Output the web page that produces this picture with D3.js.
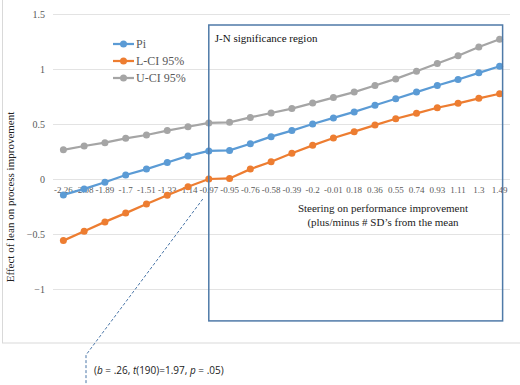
<!DOCTYPE html>
<html>
<head>
<meta charset="utf-8">
<script src="https://cdn.jsdelivr.net/npm/d3@7"></script>
<style>
  body { margin: 0; background: #fff; }
  svg { display: block; }
  .serif { font-family: "Liberation Serif", "Times New Roman", Times, "DejaVu Serif", serif; }
</style>
</head>
<body>
<svg id="chart" width="520" height="385"></svg>
<script>
// moderator values (SDs from the mean)
const categories = ["-2.26", "-2.08", "-1.89", "-1.7", "-1.51", "-1.33", "-1.14", "-0.97", "-0.95", "-0.76",
  "-0.58", "-0.39", "-0.2", "-0.01", "0.18", "0.36", "0.55", "0.74", "0.93", "1.11", "1.3", "1.49"];

const piValues = [-0.145, -0.09, -0.03, 0.036, 0.09, 0.15, 0.21, 0.255, 0.26, 0.32,
  0.385, 0.44, 0.50, 0.555, 0.61, 0.67, 0.73, 0.79, 0.85, 0.905, 0.965, 1.025];
const lowerCI = [-0.56, -0.475, -0.39, -0.31, -0.227, -0.148, -0.07, 0.0, 0.005, 0.09,
  0.157, 0.234, 0.306, 0.373, 0.43, 0.49, 0.548, 0.597, 0.648, 0.688, 0.733, 0.775];
const upperCI = [0.265, 0.30, 0.33, 0.37, 0.40, 0.44, 0.475, 0.51, 0.515, 0.56,
  0.60, 0.64, 0.69, 0.74, 0.79, 0.85, 0.91, 0.98, 1.05, 1.12, 1.20, 1.27];

const yTicks = [-1, -0.5, 0, 0.5, 1, 1.5];

const series = [
  {name: "Pi", values: piValues, color: "#5b9bd5"},
  {name: "L-CI 95%", values: lowerCI, color: "#ed7d31"},
  {name: "U-CI 95%", values: upperCI, color: "#a5a5a5"}
];

const svg = d3.select("#chart");

const x = d3.scaleBand().domain(categories).range([53, 510]).padding(0);
const y = d3.scaleLinear().domain([-1.5, 1.5]).range([344, 14]);
const cx = d => x(d) + x.bandwidth() / 2;

// outer chart frame
svg.append("rect")
  .attr("x", 2.5).attr("y", -5)
  .attr("width", 530).attr("height", 348)
  .attr("fill", "none")
  .attr("stroke", "#d9d9d9");

// gridlines
svg.append("g")
  .selectAll("line")
  .data(yTicks)
  .enter().append("line")
  .attr("x1", 53).attr("x2", 510)
  .attr("y1", d => Math.round(y(d)) + 0.5)
  .attr("y2", d => Math.round(y(d)) + 0.5)
  .attr("stroke", "#e3e3e3")
  .attr("stroke-width", 1);

// y axis labels
const yAxis = svg.append("g")
  .attr("transform", "translate(45,0)")
  .call(d3.axisLeft(y).tickValues(yTicks).tickSize(0).tickPadding(0).tickFormat(d3.format("")));
yAxis.attr("font-family", null);
yAxis.select(".domain").remove();
yAxis.selectAll("text")
  .attr("class", "serif")
  .attr("font-size", 10)
  .attr("fill", "#595959");

// x axis labels sit on the zero line
const xAxis = svg.append("g")
  .attr("transform", `translate(0,${y(0)})`)
  .call(d3.axisBottom(x).tickSize(0).tickPadding(8));
xAxis.attr("font-family", null);
xAxis.select(".domain").remove();
xAxis.selectAll("text")
  .attr("class", "serif")
  .attr("font-size", 9)
  .attr("fill", "#595959");

// axis titles
svg.append("text")
  .attr("class", "serif")
  .attr("transform", "translate(14,197) rotate(-90)")
  .attr("text-anchor", "middle")
  .attr("font-size", 11)
  .attr("fill", "#222")
  .text("Effect of lean on process improvement");

const xTitle = svg.append("text")
  .attr("class", "serif")
  .attr("text-anchor", "middle")
  .attr("font-size", 11)
  .attr("fill", "#222");
xTitle.append("tspan").attr("x", 383).attr("y", 212).text("Steering on performance improvement");
xTitle.append("tspan").attr("x", 383).attr("y", 226).text("(plus/minus # SD\u2019s from the mean");

// lines and markers
const line = d3.line()
  .x((d, i) => cx(categories[i]))
  .y(d => y(d));

series.slice().reverse().forEach(s => {
  svg.append("path")
    .datum(s.values)
    .attr("d", line)
    .attr("fill", "none")
    .attr("stroke", s.color)
    .attr("stroke-width", 2.25);

  svg.append("g")
    .selectAll("circle")
    .data(s.values)
    .enter().append("circle")
    .attr("cx", (d, i) => cx(categories[i]))
    .attr("cy", d => y(d))
    .attr("r", 3.5)
    .attr("fill", s.color);
});

// J-N significance region box
const boxLeft = cx("-0.97");
const boxRight = cx("1.49") + 3;
svg.append("rect")
  .attr("x", boxLeft).attr("y", y(1.4))
  .attr("width", boxRight - boxLeft)
  .attr("height", y(-1.29) - y(1.4))
  .attr("fill", "none")
  .attr("stroke", "#4f7aa8")
  .attr("stroke-width", 1.5);

svg.append("text")
  .attr("class", "serif")
  .attr("x", boxLeft + 6).attr("y", 42)
  .attr("font-size", 11)
  .attr("fill", "#111")
  .text("J-N significance region");

// legend
const legend = svg.append("g")
  .selectAll("g")
  .data(series)
  .enter().append("g")
  .attr("transform", (d, i) => `translate(113,${44 + i * 17})`);
legend.append("line")
  .attr("x1", 0).attr("x2", 21)
  .attr("stroke", d => d.color)
  .attr("stroke-width", 2.25);
legend.append("circle")
  .attr("cx", 10.5).attr("r", 3.5)
  .attr("fill", d => d.color);
legend.append("text")
  .attr("class", "serif")
  .attr("x", 23).attr("y", 4)
  .attr("font-size", 12)
  .attr("fill", "#595959")
  .text(d => d.name);

// callout for the transition point
const calloutTop = [cx("-0.97") - 6, y(0) + 20];
svg.append("path")
  .attr("d", `M${calloutTop[0]},${calloutTop[1]} L86,355 L86,385`)
  .attr("fill", "none")
  .attr("stroke", "#4a76a8")
  .attr("stroke-width", 1)
  .attr("stroke-dasharray", "3,2");

const note = svg.append("text")
  .attr("x", 94).attr("y", 374)
  .style("font-family", "'Open Sans', 'Liberation Sans', Arial, sans-serif")
  .attr("font-size", 10)
  .attr("fill", "#222");
note.append("tspan").text("(");
note.append("tspan").attr("font-style", "italic").text("b");
note.append("tspan").text(" = .26, ");
note.append("tspan").attr("font-style", "italic").text("t");
note.append("tspan").text("(190)=1.97, ");
note.append("tspan").attr("font-style", "italic").text("p");
note.append("tspan").text(" = .05)");
</script>
</body>
</html>
